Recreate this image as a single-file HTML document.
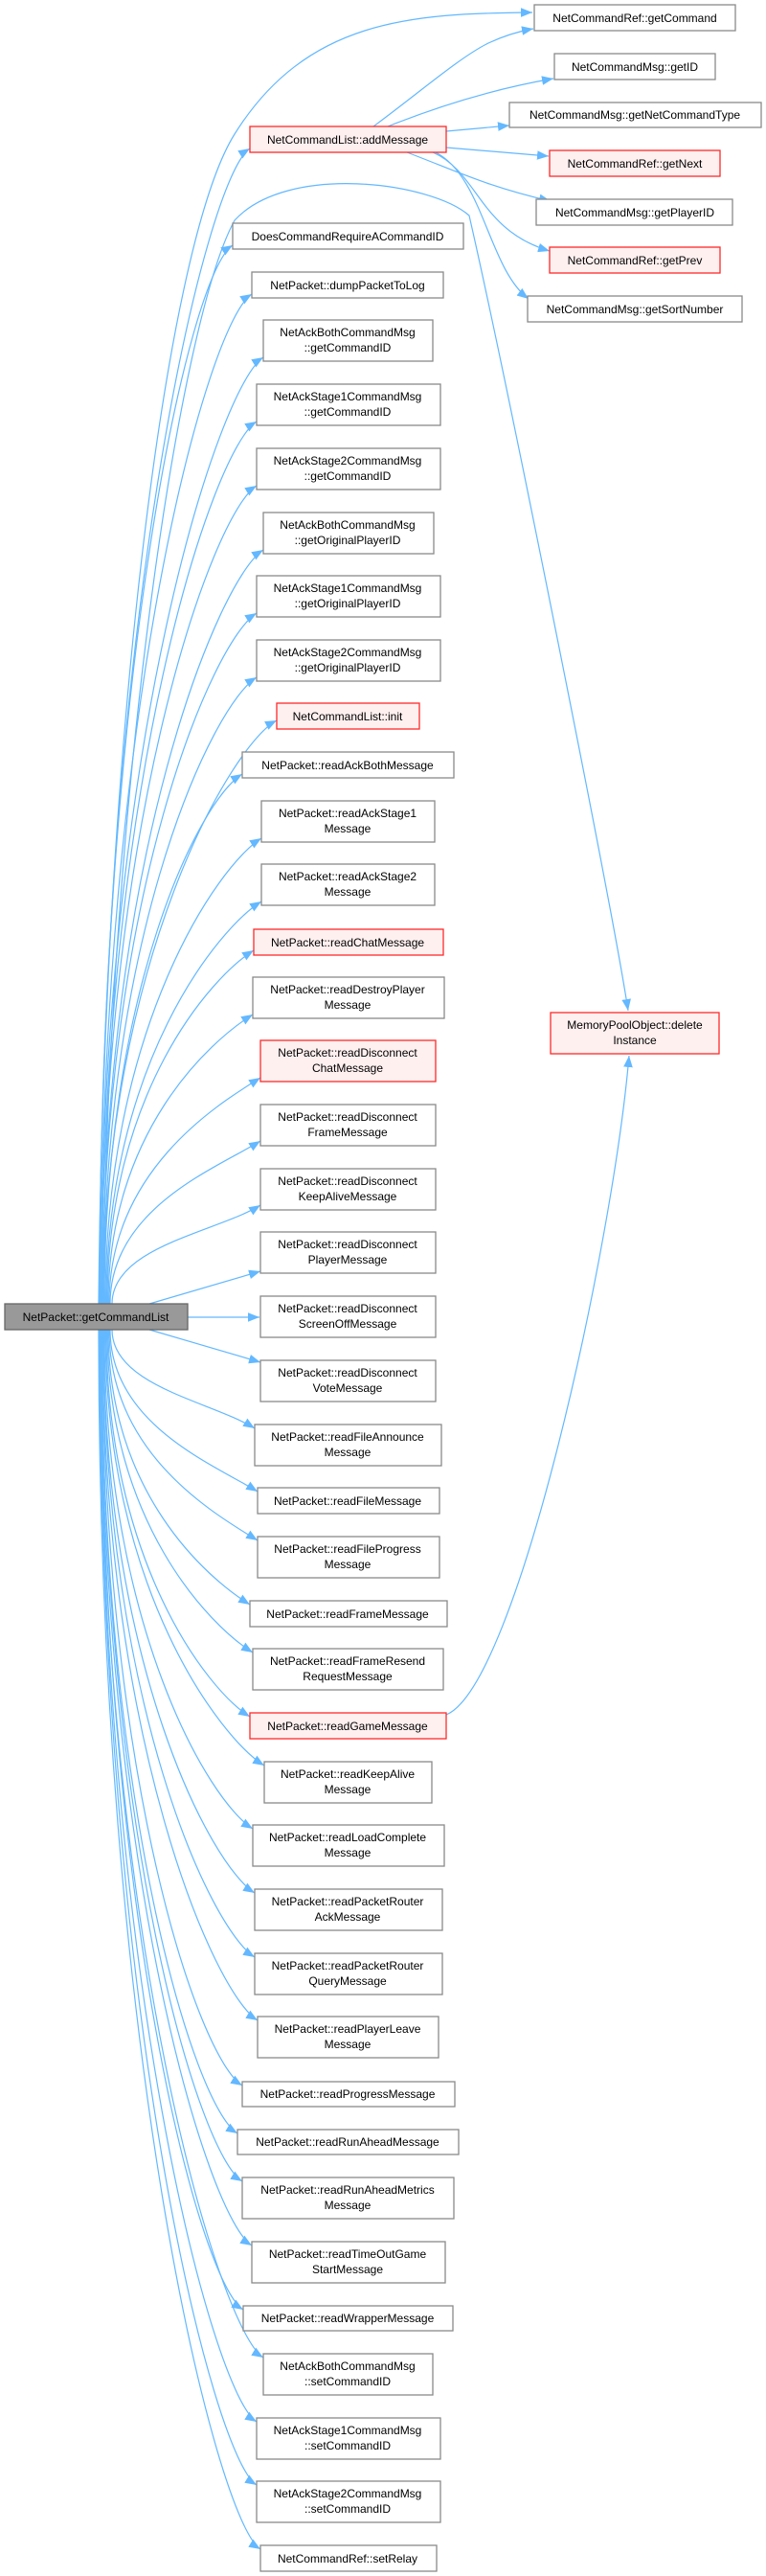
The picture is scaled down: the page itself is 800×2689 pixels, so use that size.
<!DOCTYPE html>
<html><head><meta charset="utf-8"><style>
html,body{margin:0;padding:0;background:#fff;}
svg{display:block;}
text{font-family:"Liberation Sans",Arial,sans-serif;font-size:12px;fill:#000;text-anchor:middle;}
.n{fill:#fff;stroke:#8a8a8a;stroke-width:1.3;}
.r{fill:#fff0f0;stroke:#ff2a2a;stroke-width:1.3;}
.s{fill:#999;stroke:#666;stroke-width:1.3;}
.e{fill:none;stroke:#63b8ff;stroke-width:1.2;marker-end:url(#a);}
</style></head><body>
<svg width="800" height="2689" viewBox="0 0 800 2689" xmlns="http://www.w3.org/2000/svg">
<defs><marker id="a" markerUnits="userSpaceOnUse" markerWidth="12" markerHeight="10" viewBox="0 0 10 8" refX="10" refY="4" orient="auto"><path d="M0,0 L10,4 L0,8 z" fill="#63b8ff"/></marker></defs>

<!-- edges from getCommandList -->
<path class="e" d="M103 1361 C108 800,170 260,245 140 S430 14,556 13"/>
<path class="e" d="M107 1361 C115 800,190 330,245 230 C300 170,450 190,490 225 C530 400,640 950,656 1055"/>
<path class="e" d="M104 1361 C104 640,216 183,261 155"/>
<path class="e" d="M104 1361 C104 700,198 284,243 256"/>
<path class="e" d="M105 1361 C105 731,218 335,263 307"/>
<path class="e" d="M105 1361 C105 771,230 401,275 373"/>
<path class="e" d="M106 1361 C106 811,223 468,268 440"/>
<path class="e" d="M106 1361 C106 851,223 535,268 507"/>
<path class="e" d="M107 1361 C107 891,230 602,275 574"/>
<path class="e" d="M107 1361 C107 931,223 668,268 640"/>
<path class="e" d="M108 1361 C108 971,223 735,268 707"/>
<path class="e" d="M108 1361 C108 1001,244 775,289 752"/>
<path class="e" d="M109 1361 C109 1032,208 836,253 808"/>
<path class="e" d="M110 1361 C110 1072,228 903,273 875"/>
<path class="e" d="M111 1361 C111 1111,228 969,273 941"/>
<path class="e" d="M112 1361 C112 1142,220 1020,265 992"/>
<path class="e" d="M113 1361 C113 1182,219 1087,264 1059"/>
<path class="e" d="M114 1361 C114 1222,227 1153,272 1125"/>
<path class="e" d="M115 1361 C115 1261,227 1219,272 1191"/>
<path class="e" d="M117 1361 C117 1301,227 1286,272 1258"/>
<path class="e" d="M156 1361 L272 1327"/>
<path class="e" d="M196 1375 L271 1375"/>
<path class="e" d="M156 1388 L272 1422"/>
<path class="e" d="M117 1388 C117 1447,221 1463,266 1491"/>
<path class="e" d="M115 1388 C115 1487,224 1529,269 1557"/>
<path class="e" d="M114 1388 C114 1518,224 1580,269 1608"/>
<path class="e" d="M113 1388 C113 1558,216 1647,261 1675"/>
<path class="e" d="M112 1388 C112 1588,219 1697,264 1725"/>
<path class="e" d="M111 1388 C111 1628,216 1764,261 1792"/>
<path class="e" d="M110 1388 C110 1659,231 1815,276 1843"/>
<path class="e" d="M109 1388 C109 1698,219 1881,264 1909"/>
<path class="e" d="M108 1388 C108 1738,221 1948,266 1976"/>
<path class="e" d="M108 1388 C108 1779,221 2015,266 2043"/>
<path class="e" d="M107 1388 C107 1818,224 2081,269 2109"/>
<path class="e" d="M107 1388 C107 1859,208 2149,253 2177"/>
<path class="e" d="M106 1388 C106 1889,203 2199,248 2227"/>
<path class="e" d="M106 1388 C106 1919,208 2249,253 2277"/>
<path class="e" d="M105 1388 C105 1959,218 2316,263 2344"/>
<path class="e" d="M105 1388 C105 1999,209 2383,254 2411"/>
<path class="e" d="M104 1388 C104 2029,230 2433,275 2461"/>
<path class="e" d="M104 1388 C104 2070,223 2500,268 2528"/>
<path class="e" d="M104 1388 C104 2109,223 2566,268 2594"/>
<path class="e" d="M103 1388 C103 2149,227 2633,272 2661"/>
<!-- readGame -> MemoryPool -->
<path class="e" d="M466 1790 C540 1760,640 1300,657 1102"/>
<!-- addMessage edges -->
<path class="e" d="M390 132 C440 95,480 60,510 45 C525 38,540 33,557 30"/>
<path class="e" d="M405 132 C460 110,520 92,578 82"/>
<path class="e" d="M466 137 L532 131"/>
<path class="e" d="M466 154 L573 163"/>
<path class="e" d="M425 159 C480 180,510 195,575 210"/>
<path class="e" d="M452 159 C500 180,500 240,574 262"/>
<path class="e" d="M455 159 C505 185,510 280,552 312"/>

<!-- source -->
<rect class="s" x="5" y="1361" width="191" height="27"/><text x="100" y="1379">NetPacket::getCommandList</text>

<!-- right column -->
<rect class="n" x="558" y="5" width="210" height="27"/><text x="663" y="23">NetCommandRef::getCommand</text>
<rect class="n" x="579" y="56" width="168" height="27"/><text x="663" y="74">NetCommandMsg::getID</text>
<rect class="n" x="532" y="107" width="263" height="26"/><text x="663" y="124">NetCommandMsg::getNetCommandType</text>
<rect class="r" x="574" y="157" width="178" height="27"/><text x="663" y="175">NetCommandRef::getNext</text>
<rect class="n" x="560" y="208" width="205" height="27"/><text x="663" y="226">NetCommandMsg::getPlayerID</text>
<rect class="r" x="574" y="258" width="178" height="27"/><text x="663" y="276">NetCommandRef::getPrev</text>
<rect class="n" x="551" y="309" width="224" height="27"/><text x="663" y="327">NetCommandMsg::getSortNumber</text>
<rect class="r" x="575" y="1057" width="176" height="43"/><text x="663" y="1074">MemoryPoolObject::delete</text><text x="663" y="1090">Instance</text>

<!-- middle column -->
<rect class="r" x="261" y="132" width="205" height="27"/><text x="363" y="150">NetCommandList::addMessage</text>
<rect class="n" x="243" y="233" width="241" height="27"/><text x="363" y="251">DoesCommandRequireACommandID</text>
<rect class="n" x="263" y="284" width="200" height="27"/><text x="363" y="302">NetPacket::dumpPacketToLog</text>
<rect class="n" x="275" y="334" width="177" height="43"/><text x="363" y="351">NetAckBothCommandMsg</text><text x="363" y="367">::getCommandID</text>
<rect class="n" x="268" y="401" width="192" height="43"/><text x="363" y="418">NetAckStage1CommandMsg</text><text x="363" y="434">::getCommandID</text>
<rect class="n" x="268" y="468" width="192" height="43"/><text x="363" y="485">NetAckStage2CommandMsg</text><text x="363" y="501">::getCommandID</text>
<rect class="n" x="275" y="535" width="178" height="43"/><text x="363" y="552">NetAckBothCommandMsg</text><text x="363" y="568">::getOriginalPlayerID</text>
<rect class="n" x="268" y="601" width="192" height="43"/><text x="363" y="618">NetAckStage1CommandMsg</text><text x="363" y="634">::getOriginalPlayerID</text>
<rect class="n" x="268" y="668" width="192" height="43"/><text x="363" y="685">NetAckStage2CommandMsg</text><text x="363" y="701">::getOriginalPlayerID</text>
<rect class="r" x="289" y="734" width="149" height="27"/><text x="363" y="752">NetCommandList::init</text>
<rect class="n" x="253" y="785" width="221" height="27"/><text x="363" y="803">NetPacket::readAckBothMessage</text>
<rect class="n" x="273" y="836" width="181" height="43"/><text x="363" y="853">NetPacket::readAckStage1</text><text x="363" y="869">Message</text>
<rect class="n" x="273" y="902" width="181" height="43"/><text x="363" y="919">NetPacket::readAckStage2</text><text x="363" y="935">Message</text>
<rect class="r" x="265" y="970" width="198" height="27"/><text x="363" y="988">NetPacket::readChatMessage</text>
<rect class="n" x="264" y="1020" width="200" height="43"/><text x="363" y="1037">NetPacket::readDestroyPlayer</text><text x="363" y="1053">Message</text>
<rect class="r" x="272" y="1086" width="183" height="43"/><text x="363" y="1103">NetPacket::readDisconnect</text><text x="363" y="1119">ChatMessage</text>
<rect class="n" x="272" y="1153" width="183" height="43"/><text x="363" y="1170">NetPacket::readDisconnect</text><text x="363" y="1186">FrameMessage</text>
<rect class="n" x="272" y="1220" width="183" height="43"/><text x="363" y="1237">NetPacket::readDisconnect</text><text x="363" y="1253">KeepAliveMessage</text>
<rect class="n" x="272" y="1286" width="183" height="43"/><text x="363" y="1303">NetPacket::readDisconnect</text><text x="363" y="1319">PlayerMessage</text>
<rect class="n" x="272" y="1353" width="183" height="43"/><text x="363" y="1370">NetPacket::readDisconnect</text><text x="363" y="1386">ScreenOffMessage</text>
<rect class="n" x="272" y="1420" width="183" height="43"/><text x="363" y="1437">NetPacket::readDisconnect</text><text x="363" y="1453">VoteMessage</text>
<rect class="n" x="266" y="1487" width="195" height="43"/><text x="363" y="1504">NetPacket::readFileAnnounce</text><text x="363" y="1520">Message</text>
<rect class="n" x="269" y="1553" width="190" height="27"/><text x="363" y="1571">NetPacket::readFileMessage</text>
<rect class="n" x="269" y="1604" width="190" height="43"/><text x="363" y="1621">NetPacket::readFileProgress</text><text x="363" y="1637">Message</text>
<rect class="n" x="261" y="1671" width="206" height="27"/><text x="363" y="1689">NetPacket::readFrameMessage</text>
<rect class="n" x="264" y="1721" width="199" height="43"/><text x="363" y="1738">NetPacket::readFrameResend</text><text x="363" y="1754">RequestMessage</text>
<rect class="r" x="261" y="1788" width="205" height="27"/><text x="363" y="1806">NetPacket::readGameMessage</text>
<rect class="n" x="276" y="1839" width="175" height="43"/><text x="363" y="1856">NetPacket::readKeepAlive</text><text x="363" y="1872">Message</text>
<rect class="n" x="264" y="1905" width="200" height="43"/><text x="363" y="1922">NetPacket::readLoadComplete</text><text x="363" y="1938">Message</text>
<rect class="n" x="266" y="1972" width="196" height="43"/><text x="363" y="1989">NetPacket::readPacketRouter</text><text x="363" y="2005">AckMessage</text>
<rect class="n" x="266" y="2039" width="196" height="43"/><text x="363" y="2056">NetPacket::readPacketRouter</text><text x="363" y="2072">QueryMessage</text>
<rect class="n" x="269" y="2105" width="189" height="43"/><text x="363" y="2122">NetPacket::readPlayerLeave</text><text x="363" y="2138">Message</text>
<rect class="n" x="253" y="2173" width="222" height="26"/><text x="363" y="2190">NetPacket::readProgressMessage</text>
<rect class="n" x="248" y="2223" width="231" height="26"/><text x="363" y="2240">NetPacket::readRunAheadMessage</text>
<rect class="n" x="253" y="2273" width="221" height="43"/><text x="363" y="2290">NetPacket::readRunAheadMetrics</text><text x="363" y="2306">Message</text>
<rect class="n" x="263" y="2340" width="202" height="43"/><text x="363" y="2357">NetPacket::readTimeOutGame</text><text x="363" y="2373">StartMessage</text>
<rect class="n" x="254" y="2407" width="219" height="26"/><text x="363" y="2424">NetPacket::readWrapperMessage</text>
<rect class="n" x="275" y="2457" width="177" height="43"/><text x="363" y="2474">NetAckBothCommandMsg</text><text x="363" y="2490">::setCommandID</text>
<rect class="n" x="268" y="2524" width="192" height="43"/><text x="363" y="2541">NetAckStage1CommandMsg</text><text x="363" y="2557">::setCommandID</text>
<rect class="n" x="268" y="2590" width="192" height="43"/><text x="363" y="2607">NetAckStage2CommandMsg</text><text x="363" y="2623">::setCommandID</text>
<rect class="n" x="272" y="2657" width="184" height="27"/><text x="363" y="2675">NetCommandRef::setRelay</text>
</svg>
</body></html>
